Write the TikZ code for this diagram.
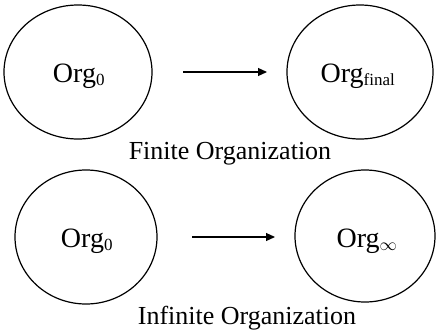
\documentclass[tikz,border=0pt]{standalone}
\usepackage{fontspec}
\setmainfont{Liberation Serif}
\usetikzlibrary{shapes.geometric,arrows.meta}
\begin{document}
\begin{tikzpicture}[x=1pt,y=-1pt,
  org/.style={draw,ellipse,line width=1.2pt,inner sep=0pt},
  lbl/.style={font=\fontsize{28}{30}\selectfont,inner sep=0pt},
  captxt/.style={font=\fontsize{26}{28}\selectfont,inner sep=0pt},
  conn/.style={line width=1.2pt,-{Triangle[length=9pt,width=8pt]}}]
\useasboundingbox (0,0) rectangle (437,335);
\node[org,minimum width=148pt,minimum height=134pt] (a0) at (78,72) {};
\node[org,minimum width=146pt,minimum height=134pt] (af) at (360,72) {};
\node[org,minimum width=142pt,minimum height=134pt] (b0) at (86,237) {};
\node[org,minimum width=140pt,minimum height=132pt] (bi) at (365,236) {};
\node[lbl] (ta0) at (79,76) {Org$_{\mbox{\fontsize{17}{18}\selectfont 0}}$};
\node[lbl] (taf) at (358,76) {Org$_{\mbox{\fontsize{17}{18}\selectfont final}}$};
\node[lbl] (tb0) at (87,241) {Org$_{\mbox{\fontsize{17}{18}\selectfont 0}}$};
\node[lbl] (tbi) at (367,241) {Org$_{\mbox{\fontsize{17}{18}\selectfont $\infty$}}$};
\coordinate (s1) at (183,72);
\coordinate (e1) at (267,72);
\coordinate (s2) at (192,237);
\coordinate (e2) at (275,237);
\draw[conn] (s1) -- (e1);
\draw[conn] (s2) -- (e2);
\node[captxt] (c1) at (230,154) {Finite Organization};
\node[captxt] (c2) at (247,318) {Infinite Organization};
\end{tikzpicture}
\end{document}
